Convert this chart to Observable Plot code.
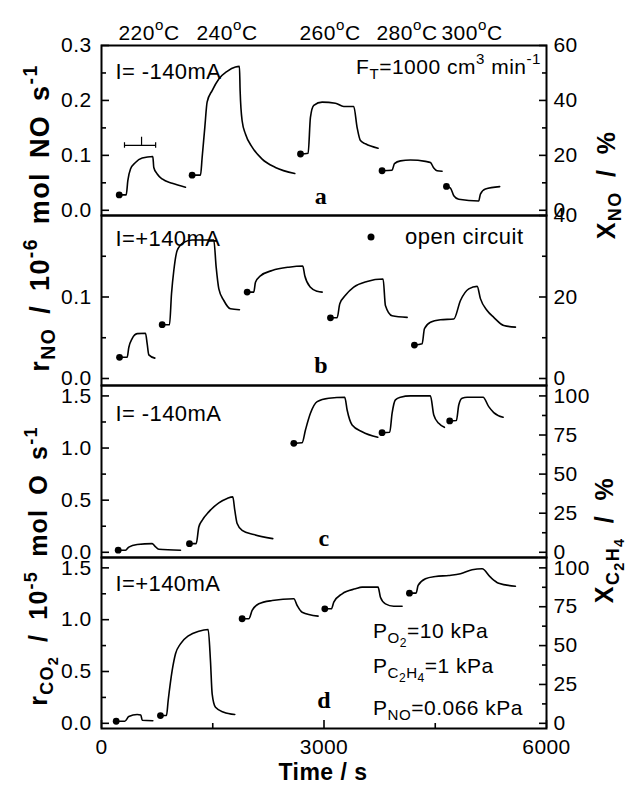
<!DOCTYPE html>
<html><head><meta charset="utf-8">
<script src="https://cdn.jsdelivr.net/npm/d3@7"></script>
<script src="https://cdn.jsdelivr.net/npm/@observablehq/plot@0.6"></script>
<style>
body{margin:0;background:#fff;}
#chart{position:relative;width:630px;height:790px;font-family:"Liberation Sans",Arial,sans-serif;color:#000;overflow:hidden;background:#fff;}
#chart svg{position:absolute;left:0;}
.t{position:absolute;white-space:nowrap;line-height:1;font-size:21px;letter-spacing:0.5px;}
.t sub,.t sup{font-size:0.72em;line-height:0;}
.t sub{vertical-align:-0.35em}
.t sup{vertical-align:0.6em}
.c{transform:translate(-50%,-50%)}
.l{transform:translate(0,-50%)}
.r{transform:translate(-100%,-50%)}
.rot{transform:translate(-50%,-50%) rotate(-90deg);font-weight:bold;font-size:25px;letter-spacing:1.2px;word-spacing:6px;}
.big{font-size:27px;letter-spacing:1.4px;word-spacing:5px;}
.rt{font-size:25px;letter-spacing:1.4px;word-spacing:6px;}
.b{font-weight:bold;font-size:23px;}
.dot{position:absolute;width:7px;height:7px;border-radius:50%;background:#000;transform:translate(-50%,-50%);}
</style>
</head><body>
<div id="chart"></div>
<script>
// ---- data: [time (s), rate] ----
const a220 = [[239,0.028],[333,0.028],[355,0.054],[391,0.075],[458,0.087],[549,0.095],[692,0.098],[705,0.078],[751,0.066],[818,0.057],[953,0.049],[1132,0.042]];
const a240 = [[1222,0.064],[1335,0.064],[1357,0.096],[1393,0.151],[1424,0.197],[1492,0.218],[1582,0.239],[1694,0.253],[1806,0.261],[1860,0.262],[1869,0.218],[1896,0.163],[1941,0.139],[2031,0.115],[2166,0.093],[2345,0.078],[2606,0.067]];
const a260 = [[2683,0.1025],[2786,0.104],[2817,0.169],[2862,0.191],[2975,0.197],[3154,0.195],[3266,0.189],[3401,0.189],[3446,0.151],[3491,0.127],[3559,0.121],[3729,0.113]];
const a280 = [[3783,0.072],[3918,0.073],[3950,0.085],[4031,0.090],[4165,0.0915],[4368,0.089],[4435,0.087],[4480,0.077],[4525,0.072],[4592,0.071]];
const a300 = [[4651,0.0435],[4705,0.0405],[4750,0.0265],[4817,0.020],[5086,0.017],[5109,0.0295],[5176,0.0387],[5369,0.043]];

const b220 = [[243,0.026],[346,0.026],[368,0.038],[413,0.049],[481,0.055],[593,0.0556],[616,0.0425],[638,0.029],[719,0.025]];
const b240 = [[818,0.066],[917,0.066],[944,0.104],[975,0.1325],[1020,0.157],[1110,0.167],[1222,0.170],[1514,0.170],[1546,0.1366],[1582,0.110],[1649,0.0957],[1739,0.0855],[1860,0.0843]];
const b260 = [[1964,0.106],[2053,0.106],[2076,0.118],[2143,0.126],[2301,0.1325],[2525,0.1366],[2714,0.138],[2741,0.126],[2817,0.112],[2908,0.107],[2975,0.106]];
const b280 = [[3087,0.0745],[3177,0.0745],[3213,0.0917],[3289,0.102],[3401,0.112],[3581,0.119],[3797,0.122],[3828,0.0896],[3918,0.077],[4121,0.075]];
const b300 = [[4219,0.041],[4323,0.0425],[4354,0.061],[4435,0.069],[4570,0.072],[4750,0.073],[4840,0.0957],[4952,0.110],[5065,0.113],[5109,0.098],[5199,0.0834],[5289,0.075],[5424,0.065],[5581,0.063]];

const c220 = [[225,0.02],[324,0.02],[368,0.05],[481,0.074],[683,0.083],[719,0.06],[773,0.029],[1065,0.019]];
const c240 = [[1186,0.083],[1277,0.083],[1312,0.243],[1357,0.307],[1447,0.388],[1582,0.474],[1694,0.516],[1770,0.532],[1797,0.404],[1829,0.276],[1896,0.211],[2053,0.17],[2309,0.131]];
const c260 = [[2593,1.045],[2705,1.051],[2750,1.173],[2817,1.333],[2908,1.445],[3064,1.478],[3280,1.487],[3312,1.365],[3379,1.221],[3514,1.157],[3725,1.103]];
const c280 = [[3783,1.147],[3886,1.151],[3918,1.333],[3963,1.462],[4031,1.487],[4165,1.5],[4435,1.5],[4480,1.317],[4547,1.237],[4624,1.199]];
const c300 = [[4695,1.26],[4785,1.264],[4817,1.413],[4862,1.478],[4930,1.487],[5145,1.487],[5221,1.397],[5289,1.34],[5415,1.295]];

const d220 = [[198,0.02],[314,0.02],[368,0.065],[481,0.085],[530,0.08],[549,0.03],[692,0.025]];
const d240 = [[795,0.075],[876,0.075],[899,0.22],[953,0.51],[998,0.671],[1065,0.767],[1177,0.847],[1312,0.889],[1438,0.905],[1469,0.606],[1492,0.285],[1537,0.155],[1649,0.107],[1797,0.085]];
const d260 = [[1896,1.009],[1986,1.009],[2031,1.089],[2121,1.153],[2301,1.185],[2593,1.202],[2638,1.137],[2705,1.072],[2920,1.034]];
const d280 = [[3011,1.105],[3100,1.105],[3132,1.169],[3245,1.25],[3424,1.298],[3514,1.314],[3729,1.314],[3761,1.217],[3828,1.153],[3940,1.13],[4053,1.13]];
const d300 = [[4152,1.256],[4242,1.256],[4269,1.33],[4368,1.395],[4503,1.417],[4682,1.427],[4840,1.443],[4997,1.481],[5132,1.491],[5244,1.41],[5356,1.352],[5581,1.323]];

// scale bar in panel a (time span, level)
const barT = [310, 730];
const barMidT = [540];
const barR = 0.118;

// ---- ticks ----
const xMajor = [0, 3000, 6000];
const xMinor = [1500, 4500];
const noMajorA = [0, 0.1, 0.2, 0.3];
const noMinorA = [0.05, 0.15, 0.25];
const noMajorB = [0, 0.1];
const noMinorB = [0.05, 0.15];
const co2Major = [0, 0.5, 1.0, 1.5];
const co2Minor = [0.25, 0.75, 1.25];
const xnoMajorA = [0, 20, 40, 60];
const xnoMinorA = [10, 30, 50];
const xnoMajorB = [0, 20, 40];
const xnoMinorB = [10, 30];
const xc2Major = [0, 25, 50, 75, 100];
const xc2Minor = [12.5, 37.5, 62.5, 87.5];
const xnoFactor = 200;      // X_NO (%) per r_NO unit
const xc2Factor = 100 / 1.5; // X_C2H4 (%) per r_CO2 unit

const panels = [
  {segs:[a220,a240,a260,a280,a300], dom:[-0.0095,0.3], top:0, mt:45, inner:170, mb:10,
   lMaj:noMajorA, lMin:noMinorA, lFmt:d=>d.toFixed(1), rMaj:xnoMajorA, rMin:xnoMinorA, f:xnoFactor,
   I:"I= -140mA", iDy:18, letter:"a", letDx:-3, letDy:-12, bar:true},
  {segs:[b220,b240,b260,b280,b300], dom:[-0.0086,0.2], top:205, mt:10, inner:170, mb:10,
   lMaj:noMajorB, lMin:noMinorB, lFmt:d=>d.toFixed(1), rMaj:xnoMajorB, rMin:xnoMinorB, f:xnoFactor,
   I:"I=+140mA", iDy:15, letter:"b", letDx:-3, letDy:-13},
  {segs:[c220,c240,c260,c280,c300], dom:[-0.05,1.6], top:375, mt:10, inner:172, mb:10,
   lMaj:co2Major, lMin:co2Minor, lFmt:d=>d.toFixed(1), rMaj:xc2Major, rMin:xc2Minor, f:xc2Factor,
   I:"I= -140mA", iDy:20, letter:"c", letDx:0, letDy:-12},
  {segs:[d220,d240,d260,d280,d300], dom:[-0.05,1.6], top:547, mt:10, inner:171, mb:62,
   lMaj:co2Major, lMin:co2Minor, lFmt:d=>d.toFixed(1), rMaj:xc2Major, rMin:xc2Minor, f:xc2Factor,
   I:"I=+140mA", iDy:18, letter:"d", letDx:0, letDy:-21, xaxis:true}
];

const chart = document.getElementById("chart");
const SW = 1.6;

panels.forEach(p => {
  const rows = p.segs.flatMap((s, i) => s.map(([t, r]) => ({t, r, seg: i})));
  const dots = p.segs.map(s => ({t: s[0][0], r: s[0][1]}));
  const marks = [
    Plot.line(rows, {x: "t", y: "r", z: "seg", stroke: "black", strokeWidth: 1.6, curve: "monotone-x"}),
    Plot.dot(dots, {x: "t", y: "r", r: 3.4, fill: "black"}),
    // left axis
    Plot.axisY(p.lMaj, {anchor: "left", tickSize: 8, dx: 8, fill: "none", strokeWidth: SW, label: null}),
    Plot.axisY(p.lMin, {anchor: "left", tickSize: 5, dx: 5, fill: "none", strokeWidth: SW, label: null}),
    Plot.axisY(p.lMaj, {anchor: "left", tickSize: 0, tickPadding: 10, tickFormat: p.lFmt, fontSize: 21, label: null}),
    // right axis (conversion)
    Plot.axisY(p.rMaj.map(v => v / p.f), {anchor: "right", tickSize: 8, dx: -8, fill: "none", strokeWidth: SW, label: null}),
    Plot.axisY(p.rMin.map(v => v / p.f), {anchor: "right", tickSize: 5, dx: -5, fill: "none", strokeWidth: SW, label: null}),
    Plot.axisY(p.rMaj.map(v => v / p.f), {anchor: "right", tickSize: 0, tickPadding: 7, tickFormat: d => String(Math.round(d * p.f)), fontSize: 21, label: null}),
    Plot.frame({stroke: "black", strokeWidth: 2}),
    Plot.text([p.I], {frameAnchor: "top-left", dx: 14, dy: p.iDy, fontSize: 22, textAnchor: "start"}),
    Plot.text([p.letter], {frameAnchor: "bottom", dx: p.letDx, dy: p.letDy, fontSize: 24, fontWeight: "bold", fontFamily: "Liberation Serif"})
  ];
  if (p.bar) {
    marks.push(
      Plot.ruleY([barR], {x1: barT[0], x2: barT[1], stroke: "black", strokeWidth: 1.2}),
      Plot.ruleX(barT, {y1: barR - 0.005, y2: barR + 0.005, stroke: "black", strokeWidth: 1.2}),
      Plot.ruleX(barMidT, {y1: barR, y2: barR + 0.015, stroke: "black", strokeWidth: 1.2})
    );
  }
  if (p.xaxis) {
    marks.push(
      Plot.axisX(xMajor, {anchor: "bottom", tickSize: 8, dy: -8, fill: "none", strokeWidth: SW, label: null}),
      Plot.axisX(xMinor, {anchor: "bottom", tickSize: 5, dy: -5, fill: "none", strokeWidth: SW, label: null}),
      Plot.axisX(xMajor, {anchor: "bottom", tickSize: 0, tickPadding: 11, fontSize: 21, label: null, tickFormat: d => String(d)})
    );
  }
  const svg = Plot.plot({
    width: 630,
    height: p.mt + p.inner + p.mb,
    marginLeft: 101, marginRight: 84, marginTop: p.mt, marginBottom: p.mb,
    x: {domain: [0, 6000], axis: null},
    y: {domain: p.dom, axis: null},
    style: {background: "transparent", overflow: "visible", fontFamily: "Liberation Sans, Arial, sans-serif", fontSize: "21px", color: "black", letterSpacing: "0.4px"},
    marks
  });
  svg.style.top = p.top + "px";
  chart.appendChild(svg);
});

// ---- HTML text overlays ----
const temps = [["220",149],["240",227],["260",330],["280",407],["300",472]];
const html = [];
temps.forEach(([t, x]) => html.push(`<div class="t c" style="left:${x}px;top:32px">${t}<sup>o</sup>C</div>`));
html.push(`<div class="t r" style="left:541px;top:66px">F<sub>T</sub>=1000 cm<sup>3</sup> min<sup>-1</sup></div>`);
html.push(`<div class="dot" style="left:371px;top:237px"></div>`);
html.push(`<div class="t l" style="left:405px;top:237px;font-size:22px">open circuit</div>`);
html.push(`<div class="t l" style="left:373px;top:632px">P<sub>O<sub style="font-size:0.8em">2</sub></sub>=10 kPa</div>`);
html.push(`<div class="t l" style="left:373px;top:667px">P<sub>C<sub style="font-size:0.8em">2</sub>H<sub style="font-size:0.8em">4</sub></sub>=1 kPa</div>`);
html.push(`<div class="t l" style="left:373px;top:707px">P<sub>NO</sub>=0.066 kPa</div>`);
html.push(`<div class="t rot big" style="left:40px;top:218px">r<sub>NO</sub> / 10<sup>-6</sup> mol NO s<sup>-1</sup></div>`);
html.push(`<div class="t rot" style="left:40px;top:566px">r<sub>CO<sub style="font-size:0.8em">2</sub></sub> / 10<sup>-5</sup> mol O s<sup>-1</sup></div>`);
html.push(`<div class="t rot rt" style="left:606px;top:185px">X<sub>NO</sub> / %</div>`);
html.push(`<div class="t rot rt" style="left:606px;top:540px">X<sub>C<sub style="font-size:0.8em">2</sub>H<sub style="font-size:0.8em">4</sub></sub> / %</div>`);
html.push(`<div class="t c b" style="left:323px;top:772px">Time / s</div>`);
chart.insertAdjacentHTML("beforeend", html.join(""));
</script>
</body></html>
